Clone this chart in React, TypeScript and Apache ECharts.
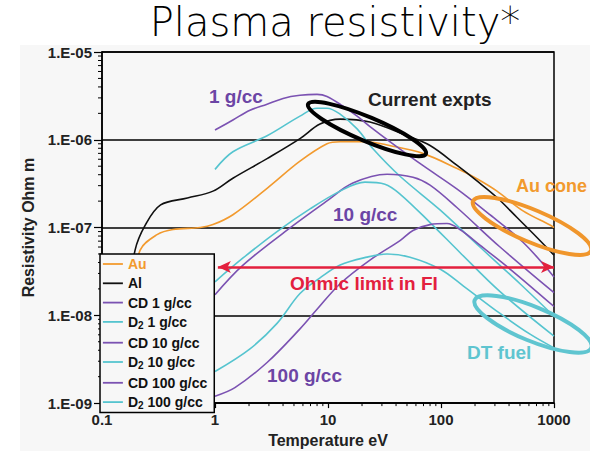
import { useEffect, useRef } from 'react';
import * as echarts from 'echarts';

const xTickLabels = ['0.1', '1', '10', '100', '1000'];
const yTickLabels = ['1.E-09', '1.E-08', '1.E-07', '1.E-06', '1.E-05'];
const xDecades = [0.1, 1, 10, 100];
const yDecades = [1e-9, 1e-8, 1e-7, 1e-6];
const minorMultipliers = [2, 3, 4, 5, 6, 7, 8, 9];

const auData: [number, number][] = [
  [0.18, 1.5e-8], [0.217, 5.5e-8], [0.307, 8.3e-8], [0.425, 9.5e-8], [0.74, 1.0e-7],
  [0.96, 1.08e-7], [1.44, 1.4e-7], [2.89, 2.8e-7], [5.65, 5.7e-7], [9.8, 9.0e-7],
  [12.8, 9.5e-7], [22, 9.5e-7], [35, 8.6e-7], [69, 7.0e-7], [139, 4.7e-7],
  [208, 3.6e-7], [313, 2.6e-7], [532, 1.55e-7], [922, 1.07e-7], [1000, 1.0e-7],
];
const alData: [number, number][] = [
  [0.17, 1.5e-8], [0.196, 5.5e-8], [0.24, 1.05e-7], [0.33, 1.81e-7], [0.57, 2.17e-7],
  [0.96, 2.6e-7], [1.44, 3.65e-7], [2.89, 6.1e-7], [5.65, 1.03e-6], [8.5, 1.51e-6],
  [12.8, 1.72e-6], [23.5, 1.59e-6], [50, 1.11e-6], [80, 8.6e-7], [139, 5.1e-7],
  [208, 3.4e-7], [313, 2.2e-7], [471, 1.3e-7], [707, 7.7e-8], [1000, 4.85e-8],
];
const cd1Data: [number, number][] = [
  [1, 1.29e-6], [1.44, 1.68e-6], [2.04, 2.17e-6], [2.89, 2.54e-6], [4.0, 2.96e-6],
  [5.65, 3.21e-6], [8.0, 3.29e-6], [9.8, 3.12e-6], [13.6, 2.41e-6], [18.1, 1.86e-6],
  [25, 1.33e-6], [35.4, 9.5e-7], [69, 5.1e-7], [139, 2.74e-7], [271, 1.4e-7],
  [532, 6.8e-8], [1000, 2.74e-8],
];
const d21Data: [number, number][] = [
  [1, 4.6e-7], [1.44, 7.3e-7], [2.89, 1.11e-6], [5.65, 1.86e-6], [8, 2.29e-6],
  [9.8, 2.29e-6], [12.8, 1.96e-6], [18.1, 1.33e-6], [25, 7.9e-7], [43.4, 3.84e-7],
  [98, 1.59e-7], [221, 6.0e-8], [500, 2.29e-8], [1000, 9.75e-9],
];
const cd10Data: [number, number][] = [
  [1, 1.72e-8], [1.77, 3.74e-8], [4.9, 1.05e-7], [9.8, 2.01e-7], [16.6, 3.21e-7],
  [33.3, 4.05e-7], [56.5, 3.74e-7], [80, 3.04e-7], [139, 1.68e-7], [333, 6.0e-8],
  [1000, 1.81e-8],
];
const d210Data: [number, number][] = [
  [1, 2.41e-8], [1.77, 4.5e-8], [3.54, 9.0e-8], [6.93, 1.63e-7], [12.8, 2.6e-7],
  [21.2, 3.29e-7], [31.9, 3.12e-7], [43.4, 2.41e-7], [80, 1.14e-7], [147, 5.2e-8],
  [333, 1.86e-8], [1000, 5.8e-9],
];
const cd100Data: [number, number][] = [
  [1, 1.2e-9], [1.5, 1.5e-9], [2.89, 2.9e-9], [5.65, 7.0e-9], [8, 1.17e-8],
  [12.8, 2.29e-8], [23.5, 4.26e-8], [43.4, 7.1e-8], [56.5, 9.25e-8], [80, 1.08e-7],
  [113, 1.11e-7], [147, 9.5e-8], [221, 6.3e-8], [408, 3.37e-8], [1000, 1.26e-8],
];
const d2100Data: [number, number][] = [
  [1, 2.29e-9], [2.04, 4.15e-9], [3.54, 8.1e-9], [5.65, 1.77e-8], [8.5, 2.67e-8],
  [12.8, 3.74e-8], [22.1, 4.6e-8], [33.3, 5.0e-8], [53.2, 4.6e-8], [98, 3.37e-8],
  [157, 2.17e-8], [333, 1.05e-8], [614, 6.1e-9], [1000, 4.26e-9],
];

const ohmicLimitRange = [1.06, 1000];
const ohmicLimitRho = 3.56e-8;

const ORANGE = '#f29a2e';
const BLACK = '#111111';
const PURPLE = '#7b52b2';
const CYAN = '#55c4cf';
const RED = '#e3203e';
const LABEL_PURPLE = '#6c45a5';

const seriesDefs = [
  { name: 'Au', data: auData, color: ORANGE, width: 1.6 },
  { name: 'Al', data: alData, color: BLACK, width: 1.6 },
  { name: 'CD 1 g/cc', data: cd1Data, color: PURPLE, width: 1.6 },
  { name: 'D2 1 g/cc', data: d21Data, color: CYAN, width: 1.6 },
  { name: 'CD 10 g/cc', data: cd10Data, color: PURPLE, width: 1.6 },
  { name: 'D2 10 g/cc', data: d210Data, color: CYAN, width: 1.6 },
  { name: 'CD 100 g/cc', data: cd100Data, color: PURPLE, width: 1.6 },
  { name: 'D2 100 g/cc', data: d2100Data, color: CYAN, width: 1.6 },
];

const FONT = '"Liberation Sans", Arial, sans-serif';

export default function App() {
  const ref = useRef<HTMLDivElement>(null);
  useEffect(() => {
    document.body.style.margin = '0';
    if (!ref.current) return;
    const chart = echarts.init(ref.current, undefined, { renderer: 'svg' });
    const xMin = 0.1;
    const yMin = 1e-9;
    const xMinorTicks: [number, number][] = [];
    xDecades.forEach((d) => minorMultipliers.forEach((m) => xMinorTicks.push([d * m, yMin])));
    const yMinorTicks: [number, number][] = [];
    yDecades.forEach((d) => minorMultipliers.forEach((m) => yMinorTicks.push([xMin, d * m])));

    const series: any[] = seriesDefs.map((s, i) => ({
      name: s.name,
      type: 'line',
      data: s.data,
      symbol: 'none',
      smooth: 0.35,
      z: 2,
      lineStyle: { color: s.color, width: s.width },
      itemStyle: { color: s.color },
      ...(i === 0
        ? {
            markLine: {
              silent: true,
              symbol: ['arrow', 'arrow'],
              symbolSize: [9, 13],
              label: { show: false },
              lineStyle: { color: RED, width: 2.5, type: 'solid' },
              data: [
                [
                  { coord: [ohmicLimitRange[0], ohmicLimitRho] },
                  { coord: [ohmicLimitRange[1], ohmicLimitRho] },
                ],
              ],
            },
          }
        : {}),
    }));

    series.push({
      name: 'xMinorTicks',
      type: 'custom',
      silent: true,
      clip: false,
      z: 5,
      data: xMinorTicks,
      renderItem: (_p: any, api: any) => {
        const p = api.coord([api.value(0), api.value(1)]);
        return {
          type: 'line',
          shape: { x1: p[0], y1: p[1], x2: p[0], y2: p[1] + 3 },
          style: { stroke: '#000', lineWidth: 1 },
        };
      },
    });
    series.push({
      name: 'yMinorTicks',
      type: 'custom',
      silent: true,
      clip: false,
      z: 5,
      data: yMinorTicks,
      renderItem: (_p: any, api: any) => {
        const p = api.coord([api.value(0), api.value(1)]);
        return {
          type: 'line',
          shape: { x1: p[0] - 4, y1: p[1], x2: p[0], y2: p[1] },
          style: { stroke: '#000', lineWidth: 1 },
        };
      },
    });

    const ann = (text: string, x: number, y: number, color: string, size = 19) => ({
      type: 'text',
      x,
      y,
      z: 20,
      style: {
        text,
        fill: color,
        font: `bold ${size}px ${FONT}`,
        align: 'left',
        verticalAlign: 'middle',
      },
    });

    chart.setOption({
      animation: false,
      backgroundColor: '#ffffff',
      grid: {
        left: 102,
        right: 36,
        top: 52,
        bottom: 45,
        show: true,
        borderColor: '#000',
        borderWidth: 1.5,
        backgroundColor: 'transparent',
      },
      xAxis: {
        type: 'log',
        logBase: 10,
        min: 0.1,
        max: 1000,
        name: 'Temperature eV',
        nameLocation: 'middle',
        nameGap: 27,
        nameTextStyle: { fontFamily: FONT, fontWeight: 'bold', fontSize: 16, color: '#222' },
        axisLine: { show: true, lineStyle: { color: '#000', width: 1.5 } },
        axisTick: { show: true, inside: false, length: 5, lineStyle: { color: '#000', width: 1.2 } },
        splitLine: { show: false },
        axisLabel: {
          margin: 9,
          fontFamily: FONT,
          fontWeight: 'bold',
          fontSize: 15,
          color: '#222',
          formatter: (v: number) => xTickLabels[Math.round(Math.log10(v)) + 1] ?? '',
        },
      },
      yAxis: {
        type: 'log',
        logBase: 10,
        min: 1e-9,
        max: 1e-5,
        name: 'Resistivity Ohm m',
        nameLocation: 'middle',
        nameGap: 62,
        nameTextStyle: { fontFamily: FONT, fontWeight: 'bold', fontSize: 16, color: '#222' },
        axisLine: { show: true, lineStyle: { color: '#000', width: 1.5 } },
        axisTick: { show: true, inside: false, length: 8, lineStyle: { color: '#000', width: 1.2 } },
        splitLine: { show: true, lineStyle: { color: '#000', width: 1.5 } },
        axisLabel: {
          margin: 10,
          fontFamily: FONT,
          fontWeight: 'bold',
          fontSize: 15,
          color: '#222',
          formatter: (v: number) => yTickLabels[Math.round(Math.log10(v)) + 9] ?? '',
        },
      },
      legend: {
        orient: 'vertical',
        left: 100,
        top: 254,
        z: 10,
        selectedMode: false,
        backgroundColor: '#f7f7f7',
        borderColor: '#000',
        borderWidth: 1.5,
        padding: [3, 7, 2, 2],
        itemWidth: 20,
        itemHeight: 14,
        itemGap: 5.3,
        itemStyle: { opacity: 0 },
        lineStyle: { width: 1.8 },
        textStyle: {
          fontFamily: FONT,
          fontWeight: 'bold',
          fontSize: 14,
          lineHeight: 14,
          color: '#111',
          rich: {
            sub: { fontFamily: FONT, fontWeight: 'bold', fontSize: 10, padding: [7, 0, 0, 0], color: '#111' },
            n: { fontFamily: FONT, fontWeight: 'bold', fontSize: 14, color: '#111' },
          },
        },
        formatter: (name: string) =>
          name.startsWith('D2') ? `{n|D}{sub|2}{n|${name.slice(2)}}` : name,
        data: seriesDefs.map((s) =>
          s.name === 'Au' ? { name: s.name, textStyle: { color: ORANGE } } : { name: s.name }
        ),
      },
      graphic: [
        {
          type: 'rect',
          z: -10,
          shape: { x: 20, y: 45, width: 570, height: 406 },
          style: { fill: '#f7f7f7' },
        },
        {
          type: 'text',
          x: 335,
          y: 22,
          z: 20,
          style: {
            text: 'Plasma resistivity*',
            fill: '#000',
            font: '200 40px "DejaVu Sans", sans-serif',
            align: 'center',
            verticalAlign: 'middle',
          },
        },
        {
          type: 'ellipse',
          x: 367,
          y: 129,
          z: 20,
          rotation: -0.4,
          shape: { cx: 0, cy: 0, rx: 64, ry: 12 },
          style: { fill: 'none', stroke: '#000', lineWidth: 4 },
        },
        {
          type: 'ellipse',
          x: 532,
          y: 226,
          z: 20,
          rotation: -0.4,
          shape: { cx: 0, cy: 0, rx: 64, ry: 16 },
          style: { fill: 'none', stroke: '#f0962c', lineWidth: 4 },
        },
        {
          type: 'ellipse',
          x: 533,
          y: 324,
          z: 20,
          rotation: -0.39,
          shape: { cx: 0, cy: 0, rx: 63, ry: 17 },
          style: { fill: 'none', stroke: '#5fc5d0', lineWidth: 4 },
        },
        ann('1 g/cc', 209, 96, LABEL_PURPLE),
        ann('Current expts', 368, 99, '#222'),
        ann('Au cone', 516, 186, ORANGE, 18),
        ann('10 g/cc', 333, 214, LABEL_PURPLE),
        ann('Ohmic limit in FI', 290, 283, RED),
        ann('DT fuel', 467, 352, '#5fc5d0'),
        ann('100 g/cc', 267, 375, LABEL_PURPLE),
      ],
      series,
    });
    return () => chart.dispose();
  }, []);
  return <div ref={ref} style={{ width: 590, height: 453 }} />;
}
